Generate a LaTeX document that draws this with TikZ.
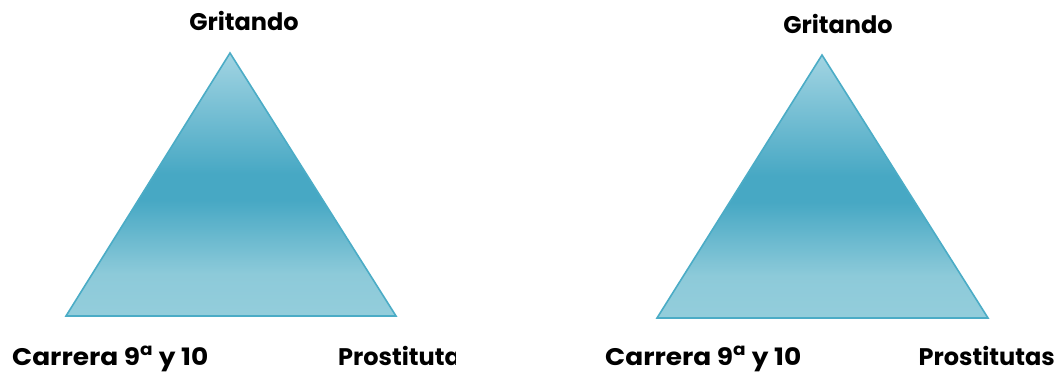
\documentclass[tikz,border=0pt]{standalone}
\usepackage{fontspec}
\setmainfont{Poppins}[BoldFont={* Bold}]
\definecolor{triedge}{HTML}{4BACC6}
\definecolor{tritop}{HTML}{A2D4E2}
\definecolor{trimid}{HTML}{47A8C4}
\definecolor{tribot}{HTML}{93CDDB}
\pgfdeclareverticalshading{trishade}{100bp}{%
  color(0bp)=(tribot); color(25bp)=(tribot); color(33bp)=(tribot!92!trimid);
  color(47bp)=(trimid); color(52bp)=(trimid); color(75bp)=(tritop); color(100bp)=(tritop)}
\tikzset{
  tri/.style={draw=triedge, line width=1.6pt, line join=miter, shading=trishade},
  lab/.style={font=\bfseries\fontsize{24}{28}\selectfont, text=black, inner sep=0pt}
}
\begin{document}
\begin{tikzpicture}[x=1pt,y=-1pt]
\useasboundingbox (0,0) rectangle (1060,373);
% left triangle
\coordinate (LA) at (230,53);
\coordinate (LB) at (66,316);
\coordinate (LC) at (396,316);
\path[tri] (LA) -- (LB) -- (LC) -- cycle;
% right triangle
\coordinate (RA) at (822,55);
\coordinate (RB) at (657,318);
\coordinate (RC) at (988,318);
\path[tri] (RA) -- (RB) -- (RC) -- cycle;
% labels
\node[lab, anchor=base] (lg) at (244,30) {Gritando};
\node[lab, anchor=base] (rg) at (838,33) {Gritando};
\node[lab, anchor=base west] (lc) at (12,365) {\scalebox{1.1}[1]{Carrera 9\textsuperscript{a} y 10}};
\node[lab, anchor=base west] (rc) at (605,365) {\scalebox{1.1}[1]{Carrera 9\textsuperscript{a} y 10}};
\begin{scope}
\clip (330,330) rectangle (455,373);
\node[lab, anchor=base west] (lp) at (338,365) {Prostitutas};
\end{scope}
\node[lab, anchor=base east] (rp) at (1055,365) {Prostitutas};
\end{tikzpicture}
\end{document}
